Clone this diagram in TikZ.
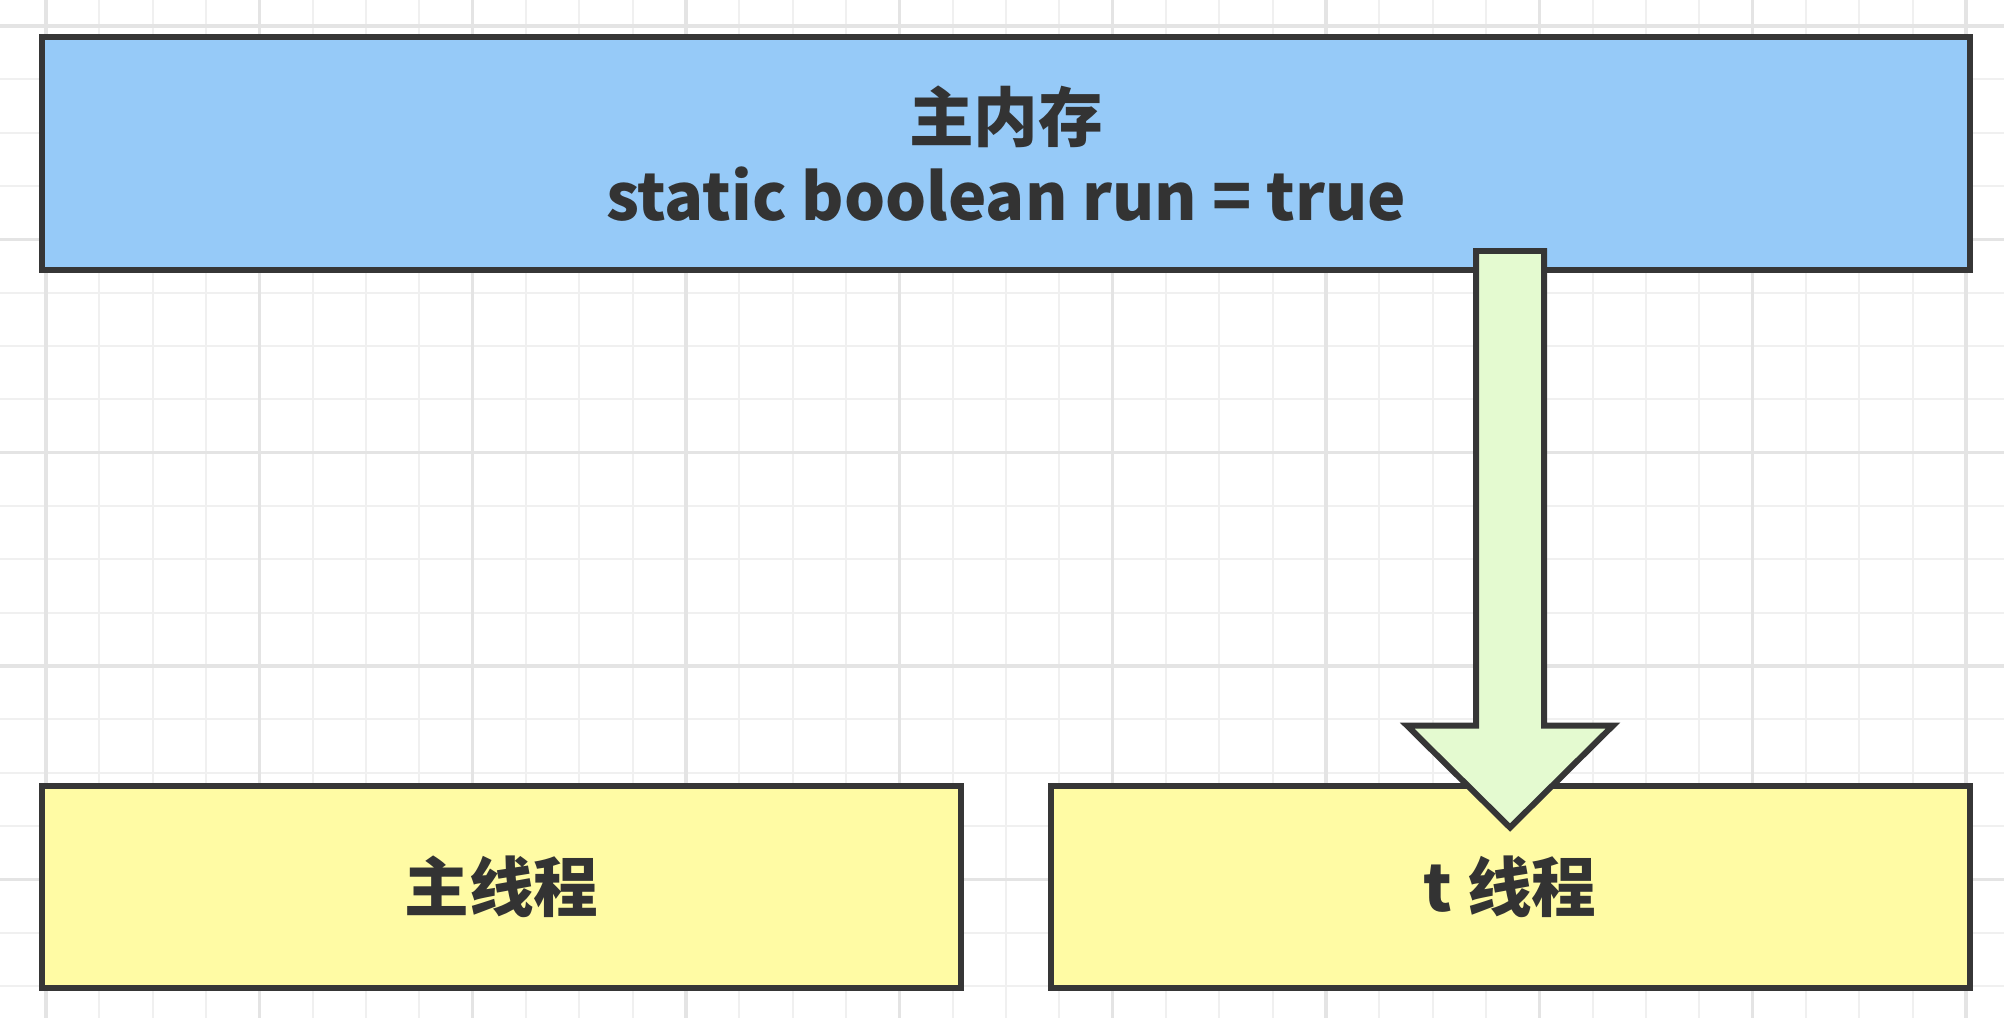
\documentclass[tikz,border=0pt]{standalone}
\usepackage{fontspec}
\setmainfont{Noto Sans CJK SC}
\usepackage{tikz}
\usetikzlibrary{arrows, shapes}
\definecolor{lineGray}{HTML}{363636}
\definecolor{textGray}{HTML}{333333}
\definecolor{memoryBlue}{HTML}{96CAF8}
\definecolor{threadYellow}{HTML}{FFFBA4}
\definecolor{arrowGreen}{HTML}{E4FAD0}
\definecolor{minorGray}{HTML}{F0F0F0}
\definecolor{majorGray}{HTML}{E4E4E4}
\tikzstyle{minorLine} = [draw=minorGray, line width=0.6pt]
\tikzstyle{majorLine} = [draw=majorGray, line width=0.9pt]
\tikzstyle{memory} = [draw=lineGray, fill=memoryBlue, rectangle, minimum width=19.28cm, minimum height=2.33cm, align=center, text=textGray, font=\fontsize{18.4}{22.6}\selectfont\bfseries]
\tikzstyle{thread} = [draw=lineGray, fill=threadYellow, rectangle, minimum width=9.19cm, minimum height=2.02cm, text=textGray, font=\fontsize{18.4}{22.6}\selectfont\bfseries]
\tikzstyle{fatArrow} = [draw=lineGray, fill=arrowGreen, line join=miter]
\begin{document}
\begin{tikzpicture}[line width=1.7pt]
        \useasboundingbox [fill=white] (0,0) rectangle (20.04,-10.18);
        \foreach \i in {0,...,36} \draw [minorLine] ({0.46+0.53333*\i},0) -- ({0.46+0.53333*\i},-10.18);
        \foreach \j in {0,...,18} \draw [minorLine] (0,{-0.26-0.53333*\j}) -- (20.04,{-0.26-0.53333*\j});
        \foreach \i in {0,...,9} \draw [majorLine] ({0.46+2.13333*\i},0) -- ({0.46+2.13333*\i},-10.18);
        \foreach \j in {0,...,4} \draw [majorLine] (0,{-0.26-2.13333*\j}) -- (20.04,{-0.26-2.13333*\j});

        \node [memory] (mainMemory) at (10.06,-1.535) {主内存\\static boolean run = true};
        \node [thread, below of=mainMemory, node distance=7.33cm, xshift=-5.045cm] (mainThread) {主线程};
        \node [thread, right of=mainThread, node distance=10.085cm] (tThread) {t 线程};

        \coordinate (arrowTip) at ([yshift=-0.45cm]tThread.north);
        \coordinate (headBase) at ([yshift=1.02cm]arrowTip);
        \coordinate (arrowTail) at ([yshift=0.22cm]mainMemory.south -| arrowTip);
        \draw [fatArrow] (arrowTip) -- ([xshift=1.03cm]headBase) -- ([xshift=0.34cm]headBase) -- ([xshift=0.34cm]arrowTail)
            -- ([xshift=-0.34cm]arrowTail) -- ([xshift=-0.34cm]headBase) -- ([xshift=-1.03cm]headBase) -- cycle;
    \end{tikzpicture}
\end{document}
